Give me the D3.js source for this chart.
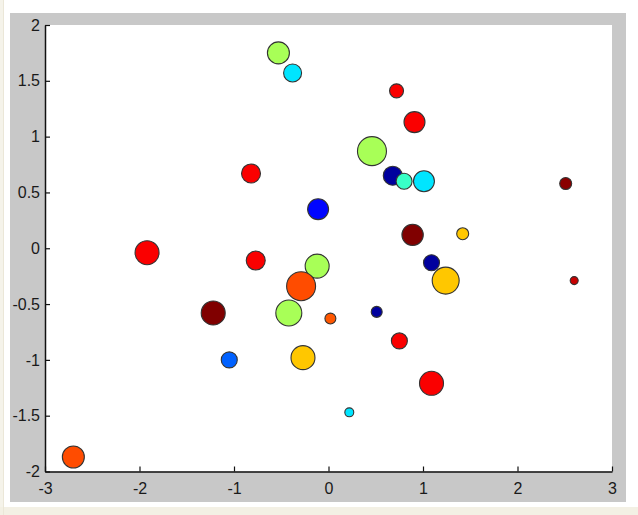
<!DOCTYPE html>
<html>
<head>
<meta charset="utf-8">
<script src="https://cdn.jsdelivr.net/npm/d3@7"></script>
<style>
  body { margin: 0; background: #fff; }
  svg { display: block; }
</style>
</head>
<body>
<div id="main"></div>
<script>
main = "#main"

// data: x, y, marker size (area-ish), colour value (0..1 on jet)
let xs = [-0.53, -0.38, 0.72, 0.91, 0.46, 0.68, 0.80, 1.01, -0.82, -0.11,
          0.89, 2.51, 1.42, 1.24, 2.60, 1.09, -1.92, -0.77, -0.12, -0.29,
          -1.22, -0.42, 0.02, 0.51, 0.75, -1.05, -0.27, 1.09, 0.22, -2.70]
let ys = [1.75, 1.57, 1.41, 1.13, 0.87, 0.65, 0.60, 0.60, 0.67, 0.35,
          0.12, 0.58, 0.13, -0.29, -0.29, -0.13, -0.04, -0.11, -0.16, -0.34,
          -0.58, -0.58, -0.63, -0.57, -0.83, -1.00, -0.98, -1.21, -1.47, -1.87]
let sizes = [121, 81, 49, 110, 210, 90, 64, 110, 90, 110,
             114, 36, 36, 182, 16, 64, 144, 90, 144, 210,
             144, 169, 30, 30, 64, 64, 144, 144, 20, 121]
let colorVals = [0.54, 0.35, 0.88, 0.88, 0.54, 0.03, 0.43, 0.35, 0.88, 0.13,
                 1.0, 0.99, 0.68, 0.68, 0.93, 0.03, 0.88, 0.88, 0.54, 0.80,
                 1.0, 0.54, 0.79, 0.03, 0.88, 0.22, 0.68, 0.88, 0.35, 0.80]

let xTicks = [-3, -2, -1, 0, 1, 2, 3]
let yTicks = [-2, -1.5, -1, -0.5, 0, 0.5, 1, 1.5, 2]

let W = 638, H = 515
let margin = {top: 25, right: 26, bottom: 43, left: 45},
    width = 612 - margin.left,
    height = 471.5 - margin.top;

// jet colormap
let jet = d3.scaleLinear()
    .domain([0, 0.125, 0.375, 0.625, 0.875, 1])
    .range(["#000080", "#0000ff", "#00ffff", "#ffff00", "#ff0000", "#800000"])

let x = d3.scaleLinear().domain([-3, 3]).range([0, width])
let y = d3.scaleLinear().domain([-2, 2]).range([height, 0])
let r = d3.scaleSqrt().domain([0, 100]).range([0, 10])

let svg = d3.select(main).append("svg")
    .attr("width", W)
    .attr("height", H)

// page frame
svg.append("rect").attr("x", 0).attr("y", 0).attr("width", W).attr("height", H).attr("fill", "#fff")
svg.append("rect").attr("x", 0).attr("y", 0).attr("width", 4).attr("height", H).attr("fill", "#f5f3ea")
svg.append("rect").attr("x", 0).attr("y", 507).attr("width", W).attr("height", H - 507).attr("fill", "#f3f0e4")
svg.append("line").attr("x1", 3.5).attr("x2", 3.5).attr("y1", 0).attr("y2", H).attr("stroke", "#ebe7d8")

// figure background
svg.append("rect")
    .attr("x", 10).attr("y", 13)
    .attr("width", 616).attr("height", 489)
    .attr("fill", "#c8c8c8")

let g = svg.append("g")
    .attr("transform", "translate(" + margin.left + "," + margin.top + ")")

g.append("rect")
    .attr("width", width)
    .attr("height", height)
    .attr("fill", "#fff")

// points
let points = xs.map((d, i) => ({x: d, y: ys[i], s: sizes[i], c: colorVals[i]}))

g.selectAll("circle.pt")
    .data(points)
    .enter()
    .append("circle")
    .attr("class", "pt")
    .attr("cx", d => x(d.x))
    .attr("cy", d => y(d.y))
    .attr("r", d => r(d.s))
    .attr("fill", d => jet(d.c))
    .attr("stroke", "#333")
    .attr("stroke-width", 1.1)

// axes (ticks inward, MATLAB style)
let fmt = d => String(d)

let xAxis = g.append("g")
    .attr("transform", "translate(0," + height + ")")
    .call(d3.axisBottom(x).tickValues(xTicks).tickSizeInner(-5).tickSizeOuter(0).tickPadding(11).tickFormat(fmt))

let yAxis = g.append("g")
    .call(d3.axisLeft(y).tickValues(yTicks).tickSizeInner(-5).tickSizeOuter(0).tickPadding(5).tickFormat(fmt))

svg.selectAll(".domain").attr("stroke", "#111").attr("stroke-width", 1.5)
svg.selectAll(".tick line").attr("stroke", "#111").attr("stroke-width", 1.2)
svg.selectAll(".tick text")
    .attr("font-family", "Liberation Sans, Arial, sans-serif")
    .attr("font-size", "16px")
    .attr("fill", "#1a1a1a")
</script>
</body>
</html>
